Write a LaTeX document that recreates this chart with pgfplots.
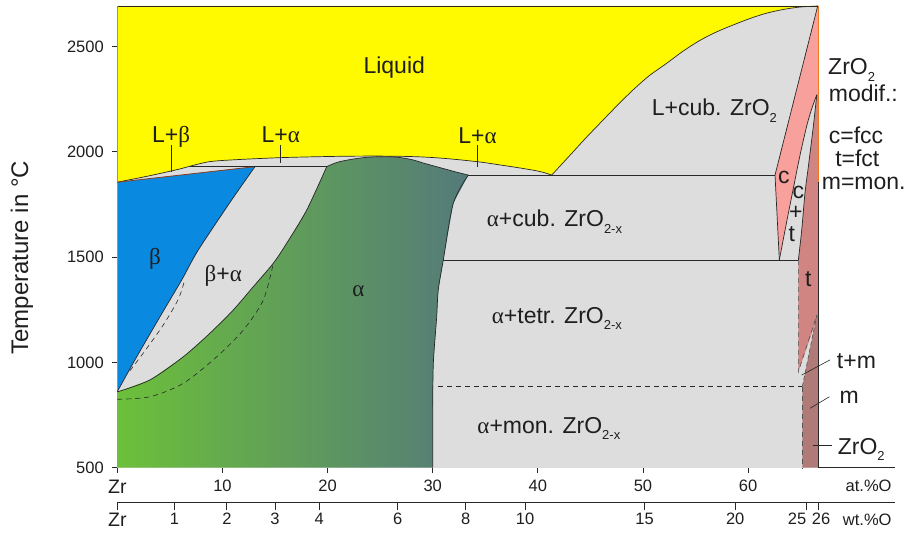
\documentclass[border=0pt]{standalone}
\usepackage{fontspec}
\setmainfont{Liberation Sans}
\newfontfamily\grk{Liberation Serif}
\usepackage{pgfplots}
\pgfplotsset{compat=1.18}
\definecolor{liq}{RGB}{255,250,0}
\definecolor{bet}{RGB}{10,137,224}
\definecolor{gry}{RGB}{221,221,221}
\definecolor{grA}{RGB}{108,192,58}
\definecolor{grB}{RGB}{84,122,122}
\definecolor{cpk}{RGB}{248,160,155}
\definecolor{tpk}{RGB}{208,133,130}
\definecolor{mpk}{RGB}{176,122,120}
\definecolor{org}{RGB}{240,120,30}
\definecolor{brn}{RGB}{140,60,30}
\definecolor{ln}{RGB}{40,40,40}
\definecolor{txt}{RGB}{30,30,30}
\newcommand{\fs}[1]{\fontsize{#1}{#1}\selectfont}
\newcommand{\al}{{\grk α}}
\newcommand{\be}{{\grk β}}
\newcommand{\sub}[1]{\raisebox{-0.28em}{\fs{13}#1}}
\begin{document}
\begin{tikzpicture}
\path[use as bounding box] (-117.3pt,-69.3pt) rectangle (793.7pt,467.7pt);
\begin{axis}[
  at={(0pt,0pt)}, anchor=south west,
  scale only axis, width=778pt, height=461.7pt,
  xmin=0, xmax=74, ymin=500, ymax=2693,
  axis x line=bottom, axis y line=left,
  axis line style={-, draw=ln, line width=0.8pt},
  tick align=outside,
  xtick={0,10,20,30,40,50,60},
  xticklabels={{\fs{19.5}Zr},10,20,30,40,50,60},
  ytick={500,1000,1500,2000,2500},
  major tick length=5pt,
  tick style={draw=ln, line width=0.8pt},
  ticklabel style={font=\fs{16.5}, text=txt},
  xticklabel style={yshift=-4pt},
  yticklabel style={xshift=-5pt},
  /pgf/number format/assume math mode=true,
  /pgf/number format/1000 sep={},
  scaled y ticks=false,
  ylabel={Temperature in °C},
  ylabel style={font=\fs{24}, text=txt, at={(axis description cs:-0.1225,0.455)}, anchor=center},
  clip=false,
]
% background grey
\addplot[fill=gry, draw=none] coordinates {(0,500)(66.67,500)(66.67,2693)(0,2693)} -- cycle;
% liquid
\addplot[fill=liq, draw=none] coordinates {
(0,1856)(3.1,1887)(5.96,1919)(6.92,1932)(8.82,1954)(11.67,1964)(15.16,1972)(18.0,1976)(21.18,1979)(23.3,1980)(25.3,1980)(26.89,1979)(28.5,1977)(30.06,1973)(31.6,1967)(33.23,1959)(34.8,1950)(36.40,1938)(38.0,1926)(39.57,1913)(40.5,1903)(41.32,1890)
(42.3,1943)(43.37,2001)(44.6,2068)(45.91,2136)(47.5,2218)(49.05,2294)(50.6,2362)(52.26,2421)(53.8,2478)(55.43,2530)(57.0,2570)(58.59,2603)(60.2,2634)(61.77,2659)(63.4,2677)(64.94,2688)(66.67,2693)(0,2693)} -- cycle;
% beta
\addplot[fill=bet, draw=none] coordinates {(0,1856)(13.10,1930)(10.88,1772)(7.70,1534)(6.13,1392)(4.06,1217)(1.68,1012)(0,861)} -- cycle;
% alpha (gradient)
\addplot[left color=grA, right color=grB, draw=none] coordinates {
(0,500)(0,860)(3.11,917)(6.28,1027)(8.82,1139)(11.03,1249)(12.94,1360)(14.84,1471)(16.11,1566)(18.02,1724)(19.92,1930)
(20.5,1943)(21.18,1954)(22.2,1964)(23.3,1972)(24.3,1976)(25.3,1977)(26.3,1976)(27.2,1971)(28.2,1961)(29.11,1947)(30.2,1932)(31.3,1917)(32.4,1902)(33.39,1890)
(31.96,1756)(31.01,1487)(30.53,1344)(30.38,1217)(30.06,996)(30.0,774)(30.0,500)} -- cycle;
% c region
\addplot[fill=cpk, draw=none] coordinates {(66.62,2693)(62.56,1890)(62.97,1487)(63.61,1653)(64.27,1819)(64.94,1985)(65.60,2128)(66.08,2209)(66.53,2271)(66.67,2271)(66.67,2693)} -- cycle;
% t region
\addplot[fill=tpk, draw=none] coordinates {(64.78,1487)(65.10,1629)(65.41,1805)(65.73,1930)(66.20,2120)(66.53,2271)(66.67,2271)(66.67,1225)(64.78,956)} -- cycle;
% m region
\addplot[fill=mpk, draw=none] coordinates {(65.16,500)(65.16,885)(66.53,1225)(66.67,1225)(66.67,500)} -- cycle;
% ---- lines
\addplot[ln, line width=0.7pt, smooth] coordinates {(0,1856)(3.1,1887)(5.96,1919)(6.92,1932)(8.82,1954)(11.67,1964)(15.16,1972)(18.0,1976)(21.18,1979)(23.3,1980)(25.3,1980)(26.89,1979)(28.5,1977)(30.06,1973)(31.6,1967)(33.23,1959)(34.8,1950)(36.40,1938)(38.0,1926)(39.57,1913)(40.5,1903)(41.32,1890)};
\addplot[ln, line width=0.7pt, smooth] coordinates {(41.32,1890)(42.3,1943)(43.37,2001)(44.6,2068)(45.91,2136)(47.5,2218)(49.05,2294)(50.6,2362)(52.26,2421)(53.8,2478)(55.43,2530)(57.0,2570)(58.59,2603)(60.2,2634)(61.77,2659)(63.4,2677)(64.94,2688)(66.67,2693)};
\addplot[brn, line width=0.8pt] coordinates {(0,1856)(13.10,1930)};
\addplot[ln, line width=0.7pt, smooth] coordinates {(13.10,1930)(10.88,1772)(7.70,1534)(6.13,1392)(4.06,1217)(1.68,1012)(0,861)};
\addplot[ln, line width=0.7pt, smooth] coordinates {(0,860)(3.11,917)(6.28,1027)(8.82,1139)(11.03,1249)(12.94,1360)(14.84,1471)(16.11,1566)(18.02,1724)(19.92,1930)};
\addplot[ln, line width=0.7pt, smooth] coordinates {(19.92,1930)(20.5,1943)(21.18,1954)(22.2,1964)(23.3,1972)(24.3,1976)(25.3,1977)(26.3,1976)(27.2,1971)(28.2,1961)(29.11,1947)(30.2,1932)(31.3,1917)(32.4,1902)(33.39,1890)};
\addplot[ln, line width=0.7pt, smooth] coordinates {(33.39,1890)(31.96,1756)(31.01,1487)(30.53,1344)(30.38,1217)(30.06,996)(30.0,774)(30.0,500)};
\addplot[ln, line width=0.7pt] coordinates {(6.92,1930)(19.92,1930)};
\addplot[ln, line width=0.7pt] coordinates {(33.39,1890)(62.56,1890)};
\addplot[ln, line width=0.7pt] coordinates {(31.01,1487)(64.78,1487)};
\addplot[ln, line width=0.7pt] coordinates {(66.62,2693)(62.56,1890)(62.97,1487)};
\addplot[ln, line width=0.7pt, smooth] coordinates {(62.97,1487)(63.61,1653)(64.27,1819)(64.94,1985)(65.60,2128)(66.08,2209)(66.53,2271)};
\addplot[ln, line width=0.7pt, smooth] coordinates {(64.78,1487)(65.10,1629)(65.41,1805)(65.73,1930)(66.20,2120)(66.53,2271)};
% dashed lines
\addplot[ln, line width=0.6pt, dash pattern=on 5pt off 4pt] coordinates {(30.5,885)(65.16,885)};
\addplot[ln!80, line width=0.6pt, dash pattern=on 5pt off 4pt] coordinates {(65.16,885)(65.16,500)};
\addplot[ln!80, line width=0.6pt, dash pattern=on 5pt off 4pt] coordinates {(64.78,1487)(64.78,956)(66.53,1225)};
\addplot[ln!80, line width=0.6pt, dash pattern=on 4pt off 3pt] coordinates {(65.16,885)(66.53,1225)};
\addplot[ln, line width=0.6pt, dash pattern=on 5pt off 4pt, smooth] coordinates {(1.2,960)(2.7,1060)(4.4,1180)(5.8,1300)(6.4,1390)};
\addplot[ln, line width=0.6pt, dash pattern=on 5pt off 4pt, smooth] coordinates {(0,825)(3.11,837)(6.28,901)(9.46,1027)(11.99,1154)(13.89,1297)(14.84,1471)};
% borders
\addplot[ln, line width=0.8pt] coordinates {(0,2693)(66.67,2693)};
\addplot[ln, line width=0.8pt] coordinates {(66.67,500)(66.67,1856)};
\addplot[org, line width=1pt] coordinates {(66.7,1856)(66.7,2693)};
\addplot[org, line width=1pt] coordinates {(0,1856)(0,2693)};
% leader lines
\addplot[ln, line width=0.6pt] coordinates {(5.11,2033)(5.11,1906)};
\addplot[ln, line width=0.6pt] coordinates {(15.55,2033)(15.55,1949)};
\addplot[ln, line width=0.6pt] coordinates {(34.26,2033)(34.26,1930)};
\addplot[ln, line width=0.6pt] coordinates {(67.79,1012)(65.1,940)};
\addplot[ln, line width=0.6pt] coordinates {(67.73,837)(65.89,782)};
\addplot[ln, line width=0.6pt] coordinates {(68.01,608)(66.15,608)};
% labels
\begin{scope}[every node/.style={font=\fs{23}, text=txt, inner sep=0pt}]
\node[anchor=base] at (axis cs:26.34,2374) {Liquid};
\node[anchor=base] at (axis cs:5.11,2046) {L+\be};
\node[anchor=base] at (axis cs:15.55,2046) {L+\al};
\node[anchor=base] at (axis cs:34.26,2041) {L+\al};
\node[anchor=base west] at (axis cs:50.83,2171) {L+cub. ZrO\sub{2}};
\node[anchor=base] at (axis cs:3.59,1463) {\be};
\node[anchor=base] at (axis cs:10.08,1384) {\be+\al};
\node[anchor=base] at (axis cs:22.93,1312) {\al};
\node[anchor=base west] at (axis cs:35.14,1645) {\al+cub. ZrO\sub{2-x}};
\node[anchor=base west] at (axis cs:35.61,1186) {\al+tetr. ZrO\sub{2-x}};
\node[anchor=base west] at (axis cs:34.24,663) {\al+mon. ZrO\sub{2-x}};
\node[anchor=base] at (axis cs:63.40,1851) {c};
\node[anchor=base] at (axis cs:64.78,1780) {c};
\node[anchor=base] at (axis cs:64.54,1677) {+};
\node[anchor=base] at (axis cs:64.15,1574) {t};
\node[anchor=base] at (axis cs:65.73,1360) {t};
\node[anchor=base west] at (axis cs:67.6,2366) {ZrO\sub{2}};
\node[anchor=base west] at (axis cs:67.66,2239) {modif.:};
\node[anchor=base west] at (axis cs:67.66,2041) {c=fcc};
\node[anchor=base west] at (axis cs:68.27,1930) {t=fct};
\node[anchor=base west] at (axis cs:67.0,1823) {m=mon.};
\node[anchor=base west] at (axis cs:68.43,972) {t+m};
\node[anchor=base west] at (axis cs:68.68,806) {m};
\node[anchor=base west] at (axis cs:68.52,564) {ZrO\sub{2}};
\end{scope}
\node[anchor=base east, font=\fs{16.5}, text=txt, inner sep=0pt] at (axis cs:73.66,500) [yshift=-23.5pt] {at.\%O};
\node[anchor=base east, font=\fs{16.5}, text=txt, inner sep=0pt] at (axis cs:73.66,500) [yshift=-58pt] {wt.\%O};
\end{axis}
\begin{axis}[
  at={(0pt,-35pt)}, anchor=south west,
  scale only axis, width=778pt, height=10pt,
  xmin=0, xmax=74, ymin=0, ymax=1,
  axis x line=bottom, axis y line=none,
  axis line style={-, draw=ln, line width=0.8pt},
  tick align=outside,
  xtick={0,5.446,10.424,14.991,19.197,26.683,33.147,38.783,50.155,58.771,65.525,66.703},
  xticklabels={{\fs{19.5}Zr},1,2,3,4,6,8,10,15,20,25,26},
  xticklabels={{\fs{19.5}Zr},1,2,3,4,6,8,10,15,20,{\makebox[0pt][r]{25}},{\makebox[0pt][l]{\kern-6.6pt 26}}},
  major tick length=7pt,
  tick style={draw=ln, line width=0.8pt},
  ticklabel style={font=\fs{16.5}, text=txt},
]
\addplot[draw=none] coordinates {(0,0)(1,1)};
\end{axis}
\end{tikzpicture}
\end{document}
